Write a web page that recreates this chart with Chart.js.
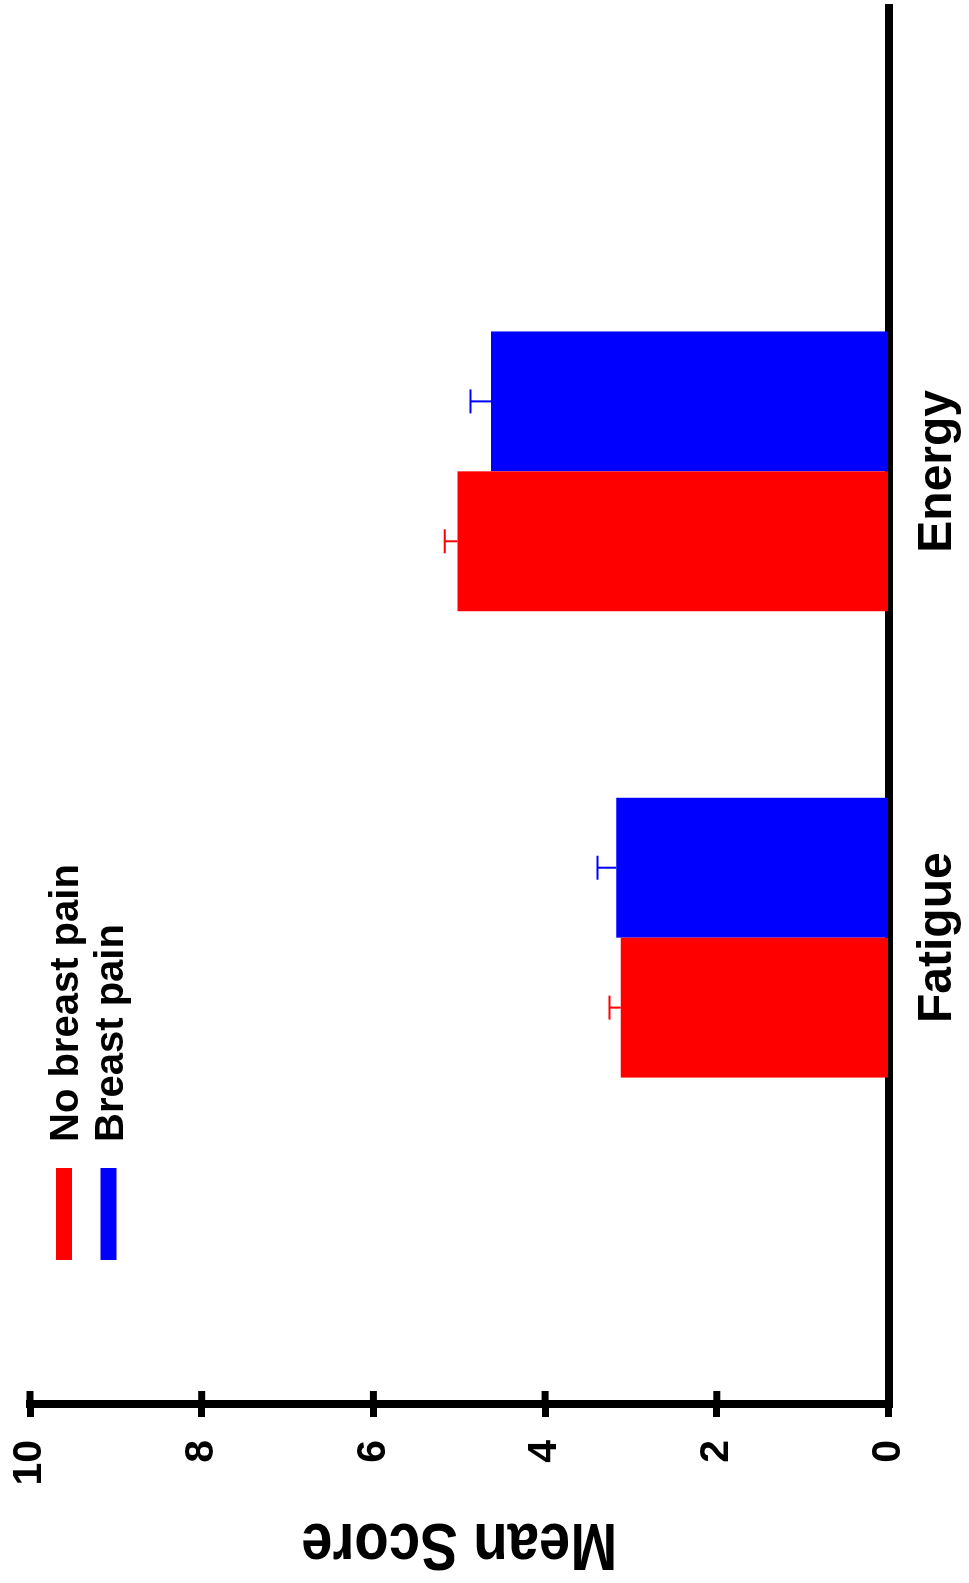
<!DOCTYPE html>
<html>
<head>
<meta charset="utf-8">
<script src="https://cdn.jsdelivr.net/npm/chart.js@4.4.1/dist/chart.umd.min.js"></script>
<style>
  html, body { margin: 0; padding: 0; background: #fff; overflow: hidden; width: 969px; height: 1583px; }
  /* the chart is laid out landscape and turned a quarter counter-clockwise */
  #frame { position: absolute; left: 0; top: 0; width: 1583px; height: 969px;
           transform-origin: 0 0; transform: translate(0, 1583px) rotate(-90deg); }
  canvas { display: block; }
</style>
</head>
<body>
<div id="frame"><canvas id="chart" width="1583" height="969"></canvas></div>
<script>
// Mean scores (± SEM) by breast-pain group
const categories = ['Fatigue', 'Energy'];
const seriesNames = ['No breast pain', 'Breast pain'];
const noPainMean = [3.12, 5.02];
const noPainSem  = [0.13, 0.15];
const painMean   = [3.17, 4.63];
const painSem    = [0.22, 0.24];
const valueTicks = [0, 2, 4, 6, 8, 10];
const valueTitle = 'Mean Score';

const FONT = "'Liberation Sans', Arial, Helvetica, sans-serif";

// empty slots on both sides of the groups
const pad = arr => [null, ...arr, null];
const labels = ['', ...categories, ''];

// short tick stubs on the inner side of the value axis
const axisStubs = {
  id: 'axisStubs',
  afterDraw(chart) {
    const y = chart.scales.y, ctx = chart.ctx, left = chart.chartArea.left;
    ctx.save();
    ctx.strokeStyle = '#000';
    ctx.lineWidth = 7;
    y.ticks.forEach((t, i) => {
      const p = y.getPixelForTick(i);
      ctx.beginPath();
      ctx.moveTo(left, p);
      ctx.lineTo(left + 13, p);
      ctx.stroke();
    });
    ctx.restore();
  }
};

// condensed, rotated title for the value axis
const axisTitle = {
  id: 'axisTitle',
  afterDraw(chart) {
    const y = chart.scales.y, ctx = chart.ctx, size = 67;
    const mid = (y.top + y.bottom) / 2;
    ctx.save();
    ctx.translate(59, mid);
    ctx.rotate(-Math.PI / 2);
    ctx.scale(0.84, 1);
    ctx.font = 'bold ' + size + 'px ' + FONT;
    ctx.fillStyle = '#000';
    ctx.textAlign = 'center';
    ctx.textBaseline = 'alphabetic';
    ctx.fillText(valueTitle, 0, 0);
    ctx.restore();
  }
};

// one-sided error bars (mean + SEM)
const errorBars = {
  id: 'errorBars',
  afterDatasetsDraw(chart) {
    const ctx = chart.ctx, y = chart.scales.y;
    chart.data.datasets.forEach((ds, i) => {
      const meta = chart.getDatasetMeta(i);
      meta.data.forEach((bar, j) => {
        const v = ds.data[j], e = ds.errorBars[j];
        if (v == null || e == null) return;
        const top = y.getPixelForValue(v + e);
        ctx.save();
        ctx.strokeStyle = ds.backgroundColor;
        ctx.lineWidth = 2;
        ctx.beginPath();
        ctx.moveTo(bar.x, bar.y);
        ctx.lineTo(bar.x, top);
        ctx.moveTo(bar.x - 12, top);
        ctx.lineTo(bar.x + 12, top);
        ctx.stroke();
        ctx.restore();
      });
    });
  }
};

// stacked legend inside the plot, top-left
const sideLegend = {
  id: 'sideLegend',
  afterDraw(chart) {
    const ctx = chart.ctx, size = 40;
    ctx.save();
    ctx.font = 'bold ' + size + 'px ' + FONT;
    ctx.textAlign = 'left';
    ctx.textBaseline = 'alphabetic';
    chart.data.datasets.forEach((ds, i) => {
      const cy = 64 + i * 44.5;
      ctx.fillStyle = ds.backgroundColor;
      ctx.fillRect(323, cy - 8, 92, 16);
      ctx.fillStyle = '#000';
      ctx.fillText(ds.label, 441, cy + size * 0.716 / 2);
    });
    ctx.restore();
  }
};

new Chart(document.getElementById('chart'), {
  type: 'bar',
  data: {
    labels: labels,
    datasets: [
      { label: seriesNames[0], data: pad(noPainMean), errorBars: pad(noPainSem),
        backgroundColor: '#ff0000', borderWidth: 0 },
      { label: seriesNames[1], data: pad(painMean), errorBars: pad(painSem),
        backgroundColor: '#0000ff', borderWidth: 0 }
    ]
  },
  options: {
    responsive: false,
    animation: false,
    events: [],
    layout: { autoPadding: false, padding: { top: 30, right: 5, left: 0, bottom: 0 } },
    datasets: { bar: { categoryPercentage: 0.6, barPercentage: 1.0 } },
    plugins: { legend: { display: false }, tooltip: { enabled: false } },
    scales: {
      x: {
        type: 'category',
        offset: false,
        grid: { display: false, drawTicks: false },
        border: { display: true, color: '#000', width: 8 },
        ticks: { color: '#000', padding: 20, autoSkip: false, maxRotation: 0,
                 font: { family: FONT, size: 48, weight: 'bold' } },
        afterFit: s => { s.height = 80.5; s.paddingLeft = 0; s.paddingRight = 0; }
      },
      y: {
        min: 0, max: 10,
        afterBuildTicks: s => { s.ticks = valueTicks.map(v => ({ value: v })); },
        grid: { drawOnChartArea: false, drawTicks: true, tickLength: 13, tickWidth: 7, tickColor: '#000' },
        border: { display: true, color: '#000', width: 8 },
        ticks: { color: '#000', padding: 23,
                 font: { family: FONT, size: 41, weight: 'bold' } },
        afterFit: s => { s.width = 179; s.paddingTop = 0; s.paddingBottom = 0; }
      }
    }
  },
  plugins: [axisStubs, axisTitle, errorBars, sideLegend]
});
</script>
</body>
</html>
